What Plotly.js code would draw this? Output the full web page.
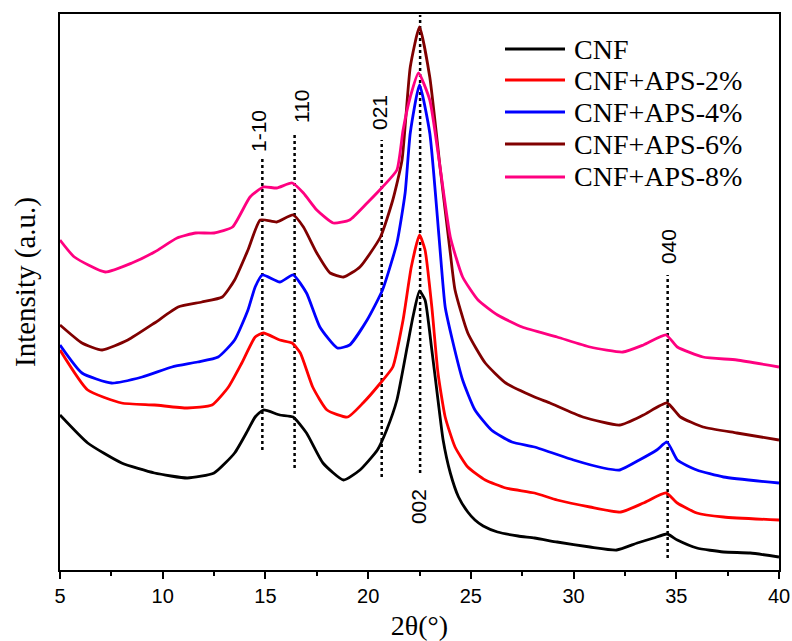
<!DOCTYPE html>
<html>
<head>
<meta charset="utf-8">
<script src="https://cdn.plot.ly/plotly-3.0.1.min.js"></script>
<style>html,body{margin:0;padding:0;background:#fff;}#chart{width:792px;height:641px;}</style>
</head>
<body>
<div id="chart"></div>
<script>
// 2θ (degrees) and intensity (a.u., offset-stacked as in the figure)
const cnfX = [5.0,6.35,8.0,9.6,11.2,12.5,13.5,14.15,14.5,14.9,15.7,16.35,17.0,17.8,18.8,19.6,20.45,20.9,21.4,21.9,22.2,22.5,22.77,23.1,23.4,23.65,24.0,24.4,24.85,25.2,25.6,26.3,27.3,28.1,29.2,30.8,32.1,33.1,33.9,34.55,35.05,36.0,37.3,38.6,40.0];
const cnfY = [155,127,107,97,92,97,117,140,153,160,155,153,137,107,90,100,120,140,170,223,255,279,270,220,170,130,97,73,58,50,44,38,34,32,28,23,20,27,32,36,30,22,18,17,13];

const aps2X = [5.0,6.35,8.0,9.6,11.2,12.4,13.2,13.85,14.5,14.9,15.7,16.3,16.7,17.3,18.0,19.0,19.75,20.6,21.2,21.7,22.1,22.5,22.77,23.1,23.4,23.75,24.23,24.85,25.7,26.7,28.1,29.2,30.8,32.3,33.4,34.5,35.05,36.0,37.3,40.0];
const aps2Y = [220,180,167,165,162,165,183,207,233,237,230,227,217,183,160,153,167,187,203,250,303,335,320,263,197,153,123,103,90,82,77,70,63,58,67,77,67,57,53,50];

const aps4X = [5.0,6.07,7.5,9.0,10.45,11.7,12.7,13.5,14.15,14.5,14.85,15.7,16.35,17.0,17.65,18.5,19.1,19.95,20.7,21.4,21.8,22.05,22.5,23.0,23.45,23.75,24.1,24.6,25.2,26.0,27.0,28.1,30.0,31.45,32.25,33.2,34.05,34.55,35.05,36.0,37.3,40.0];
const aps4Y = [225,197,187,193,203,208,213,230,260,283,295,288,295,277,243,222,225,250,280,327,377,437,485,437,333,263,230,190,160,140,128,123,110,102,100,110,120,128,110,100,93,87];

const aps6X = [5.0,6.07,7.05,8.3,9.6,10.75,11.9,12.9,13.5,14.15,14.75,15.55,16.35,16.85,17.5,18.15,18.8,19.6,20.6,21.2,21.65,22.05,22.5,23.0,23.5,24.0,24.23,24.85,25.7,26.7,28.1,28.85,30.45,32.25,33.4,34.55,35.2,36.3,37.95,40.0];
const aps6Y = [245,227,220,230,247,263,268,273,290,320,350,348,355,343,317,297,293,303,333,370,410,503,543,493,403,317,280,237,207,187,173,167,153,145,155,167,153,143,137,130];

const aps8X = [5.0,5.7,7.2,8.5,9.6,10.7,11.6,12.5,13.4,14.25,14.9,15.55,16.3,16.85,17.5,18.3,19.1,19.95,20.7,21.4,21.7,22.05,22.45,23.0,23.5,24.0,24.6,25.35,26.3,27.5,29.2,30.8,32.4,33.4,34.5,35.05,36.3,37.95,40.0];
const aps8Y = [330,313,298,307,318,332,337,337,343,373,383,382,387,377,360,347,350,367,383,400,440,473,497,470,403,333,293,270,255,243,233,223,218,225,235,223,213,210,203];

const seriesNames = ["CNF","CNF+APS-2%","CNF+APS-4%","CNF+APS-6%","CNF+APS-8%"];
const seriesColors = ["#000000","#ff0000","#0000ff","#800000","#ff0080"];

// Miller-index reference lines
const peakLabels = ["1-10","110","021","002","040"];
const peakPos = [14.85,16.42,20.66,22.53,34.58];
const peakLineTop = [413,438,430,555,295];
const peakLineBottom = [120,102,93,97,12];
const peakLabelX = [14.64,16.73,20.53,22.43,34.6];
const peakLabelY = [439,464,457,63,323];

const xs = [cnfX,aps2X,aps4X,aps6X,aps8X];
const ys = [cnfY,aps2Y,aps4Y,aps6Y,aps8Y];

const M = {l: 60, r: 13, t: 14, b: 71};
const W = 792, H = 641;
const pw = W - M.l - M.r, ph = H - M.t - M.b;
const px2x = p => (p - M.l) / pw;
const py2y = p => (H - M.b - p) / ph;

const traces = [];
for (let i = 0; i < peakPos.length; i++) {
  traces.push({
    x: [peakPos[i], peakPos[i]], y: [peakLineBottom[i], peakLineTop[i]],
    mode: 'lines', line: {color: '#000', width: 2.5, dash: 'dot'},
    showlegend: false, hoverinfo: 'skip'
  });
}
for (let i = 0; i < xs.length; i++) {
  traces.push({
    x: xs[i], y: ys[i], name: seriesNames[i], mode: 'lines', showlegend: false,
    line: {color: seriesColors[i], width: 2.8, shape: 'spline', smoothing: 0.5}
  });
}

const annotations = peakLabels.map((t, i) => ({
  x: peakLabelX[i], y: peakLabelY[i], xref: 'x', yref: 'y', text: t,
  showarrow: false, textangle: -90,
  font: {family: 'Liberation Sans, Arial, sans-serif', size: 21, color: '#000'}
}));

// manual legend (row spacing as in the figure)
const shapes = [];
const legRowY = [49, 80, 112, 144, 177];
seriesNames.forEach((n, i) => {
  shapes.push({type: 'line', xref: 'paper', yref: 'paper',
    x0: px2x(505), x1: px2x(565), y0: py2y(legRowY[i]), y1: py2y(legRowY[i]),
    line: {color: seriesColors[i], width: 2.8}});
  annotations.push({xref: 'paper', yref: 'paper', x: px2x(572), y: py2y(legRowY[i]),
    xanchor: 'left', yanchor: 'middle', text: n, showarrow: false,
    font: {family: 'Liberation Serif, Times New Roman, serif', size: 28, color: '#000'}});
});

// y-axis title
annotations.push({xref: 'paper', yref: 'paper', x: px2x(25), y: py2y(282),
  xanchor: 'center', yanchor: 'middle', textangle: -90, showarrow: false,
  text: 'Intensity (a.u.)',
  font: {family: 'Liberation Serif, Times New Roman, serif', size: 29, color: '#000'}});

const layout = {
  width: W, height: H,
  margin: M,
  paper_bgcolor: '#fff', plot_bgcolor: '#fff',
  showlegend: false,
  xaxis: {
    range: [5, 40], tickmode: 'linear', tick0: 5, dtick: 5,
    ticks: 'outside', ticklen: 7, tickwidth: 2, tickcolor: '#000',
    minor: {dtick: 2.5, ticks: 'outside', ticklen: 4, tickwidth: 2, tickcolor: '#000'},
    showline: true, linewidth: 2, linecolor: '#000', mirror: true,
    showgrid: false, zeroline: false,
    tickfont: {family: 'Liberation Sans, Arial, sans-serif', size: 20, color: '#000'},
    title: {text: '2θ(°)', standoff: 14,
      font: {family: 'Liberation Serif, Times New Roman, serif', size: 28, color: '#000'}}
  },
  yaxis: {
    range: [0, 556], showticklabels: false, ticks: '',
    showline: true, linewidth: 2, linecolor: '#000', mirror: true,
    showgrid: false, zeroline: false
  },
  shapes: shapes,
  annotations: annotations
};

Plotly.newPlot('chart', traces, layout, {displayModeBar: false, staticPlot: true});
</script>
</body>
</html>
